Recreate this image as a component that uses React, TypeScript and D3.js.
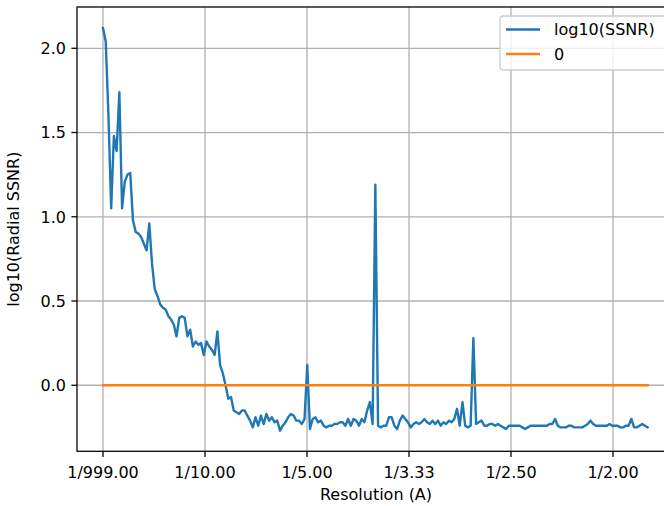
import React from 'react';
import * as d3 from 'd3';

// log10(SSNR) samples, evenly spaced in spatial frequency from 0 to FREQ_MAX (1/A)
const ssnr = [
  2.12, 2.04, 1.60, 1.05, 1.48, 1.39, 1.74, 1.05, 1.21, 1.25,
  1.26, 0.98, 0.91, 0.90, 0.88, 0.84, 0.80, 0.96, 0.72, 0.57,
  0.53, 0.48, 0.46, 0.45, 0.41, 0.39, 0.36, 0.29, 0.40, 0.41,
  0.40, 0.29, 0.33, 0.23, 0.26, 0.24, 0.25, 0.18, 0.26, 0.23,
  0.21, 0.18, 0.32, 0.12, 0.07, 0.00, -0.08, -0.07, -0.15, -0.16,
  -0.17, -0.15, -0.15, -0.18, -0.21, -0.25, -0.19, -0.24, -0.18, -0.23,
  -0.17, -0.21, -0.19, -0.22, -0.21, -0.27, -0.24, -0.22, -0.19, -0.17,
  -0.18, -0.21, -0.21, -0.23, -0.20, 0.12, -0.26, -0.20, -0.19, -0.22,
  -0.21, -0.24, -0.25, -0.24, -0.24, -0.23, -0.23, -0.22, -0.22, -0.24,
  -0.20, -0.24, -0.20, -0.21, -0.24, -0.20, -0.22, -0.15, -0.10, -0.23,
  1.19, -0.24, -0.25, -0.24, -0.24, -0.19, -0.19, -0.24, -0.26, -0.21,
  -0.18, -0.20, -0.22, -0.25, -0.23, -0.22, -0.23, -0.22, -0.20, -0.22,
  -0.23, -0.21, -0.23, -0.21, -0.24, -0.22, -0.23, -0.21, -0.22, -0.20,
  -0.14, -0.24, -0.10, -0.24, -0.25, -0.24, 0.28, -0.23, -0.22, -0.21,
  -0.24, -0.24, -0.23, -0.23, -0.24, -0.23, -0.24, -0.25, -0.26, -0.24,
  -0.24, -0.24, -0.24, -0.24, -0.25, -0.26, -0.25, -0.24, -0.24, -0.24,
  -0.24, -0.24, -0.24, -0.24, -0.23, -0.23, -0.20, -0.24, -0.25, -0.25,
  -0.25, -0.24, -0.24, -0.25, -0.25, -0.25, -0.25, -0.24, -0.23, -0.21,
  -0.23, -0.24, -0.24, -0.24, -0.24, -0.24, -0.23, -0.24, -0.24, -0.24,
  -0.25, -0.25, -0.24, -0.24, -0.20, -0.25, -0.25, -0.24, -0.23, -0.24, -0.25,
];
const FREQ_MAX = 0.534;
const zeroLevel = 0;

const xTicks = [0, 0.1, 0.2, 0.3, 0.4, 0.5];
const xTickLabels = ['1/999.00', '1/10.00', '1/5.00', '1/3.33', '1/2.50', '1/2.00'];
const yTicks = [0, 0.5, 1.0, 1.5, 2.0];
const yTickLabels = ['0.0', '0.5', '1.0', '1.5', '2.0'];
const legendLabels = ['log10(SSNR)', '0'];
const xAxisTitle = 'Resolution (A)';
const yAxisTitle = 'log10(Radial SSNR)';

const W = 664;
const H = 506;
const FONT = '"DejaVu Sans", Verdana, sans-serif';
const FS = 16;
const BLUE = '#1f77b4';
const ORANGE = '#ff7f0e';
const GRID = '#b0b0b0';

export default function App() {
  const left = 77, right = 675, top = 7, bottom = 451.3;
  const x = d3.scaleLinear().domain([-0.0255, 0.5608]).range([left, right]);
  const y = d3.scaleLinear().domain([-0.392, 2.245]).range([bottom, top]);

  const step = FREQ_MAX / (ssnr.length - 1);
  const freqs = ssnr.map((_, i) => i * step);

  const line = d3.line<number>()
    .x((_, i) => x(freqs[i]))
    .y((d) => y(d));
  const zeroLine = d3.line<number>()
    .x((_, i) => x(freqs[i]))
    .y(() => y(zeroLevel));

  const sw = 1.28;
  const tickLen = 5.6;

  const legX = 500, legY = 16, legW = 167, legH = 54;

  return (
    <svg width={W} height={H} style={{ position: 'absolute', left: 0, top: 0, background: '#fff' }}
      fontFamily={FONT}>
      <rect x={0} y={0} width={W} height={H} fill="#fff" />
      {/* grid */}
      {xTicks.map((t) => (
        <line key={'gx' + t} x1={x(t)} x2={x(t)} y1={top} y2={bottom} stroke={GRID} strokeWidth={sw} />
      ))}
      {yTicks.map((t) => (
        <line key={'gy' + t} x1={left} x2={right} y1={y(t)} y2={y(t)} stroke={GRID} strokeWidth={sw} />
      ))}
      {/* data */}
      <path d={line(ssnr) || ''} fill="none" stroke={BLUE} strokeWidth={2.4} strokeLinejoin="round" strokeLinecap="square" />
      <path d={zeroLine(ssnr) || ''} fill="none" stroke={ORANGE} strokeWidth={2.4} strokeLinecap="square" />
      {/* spines */}
      <rect x={left} y={top} width={right - left} height={bottom - top} fill="none" stroke="#000" strokeWidth={sw} />
      {/* x ticks */}
      {xTicks.map((t, i) => (
        <g key={'xt' + t}>
          <line x1={x(t)} x2={x(t)} y1={bottom} y2={bottom + tickLen} stroke="#000" strokeWidth={sw} />
          <text x={x(t)} y={478} textAnchor="middle" fontSize={FS} fill="#000">{xTickLabels[i]}</text>
        </g>
      ))}
      {/* y ticks */}
      {yTicks.map((t, i) => (
        <g key={'yt' + t}>
          <line x1={left - tickLen} x2={left} y1={y(t)} y2={y(t)} stroke="#000" strokeWidth={sw} />
          <text x={66} y={y(t)} dy="0.36em" textAnchor="end" fontSize={FS} fill="#000">{yTickLabels[i]}</text>
        </g>
      ))}
      {/* axis titles */}
      <text x={(left + right) / 2} y={500} textAnchor="middle" fontSize={FS} fill="#000">{xAxisTitle}</text>
      <text transform={`translate(19, ${(top + bottom) / 2}) rotate(-90)`} textAnchor="middle" fontSize={FS} fill="#000">{yAxisTitle}</text>
      {/* legend */}
      <rect x={legX} y={legY} width={legW} height={legH} rx={3.2} ry={3.2} fill="#fff" fillOpacity={0.8} stroke="#cccccc" strokeWidth={sw} />
      {legendLabels.map((lab, i) => {
        const cy = 29.5 + i * 24.5;
        return (
          <g key={lab}>
            <line x1={506} x2={540} y1={cy} y2={cy} stroke={i === 0 ? BLUE : ORANGE} strokeWidth={2.4} />
            <text x={554} y={cy} dy="0.36em" fontSize={FS} fill="#000">{lab}</text>
          </g>
        );
      })}
    </svg>
  );
}
